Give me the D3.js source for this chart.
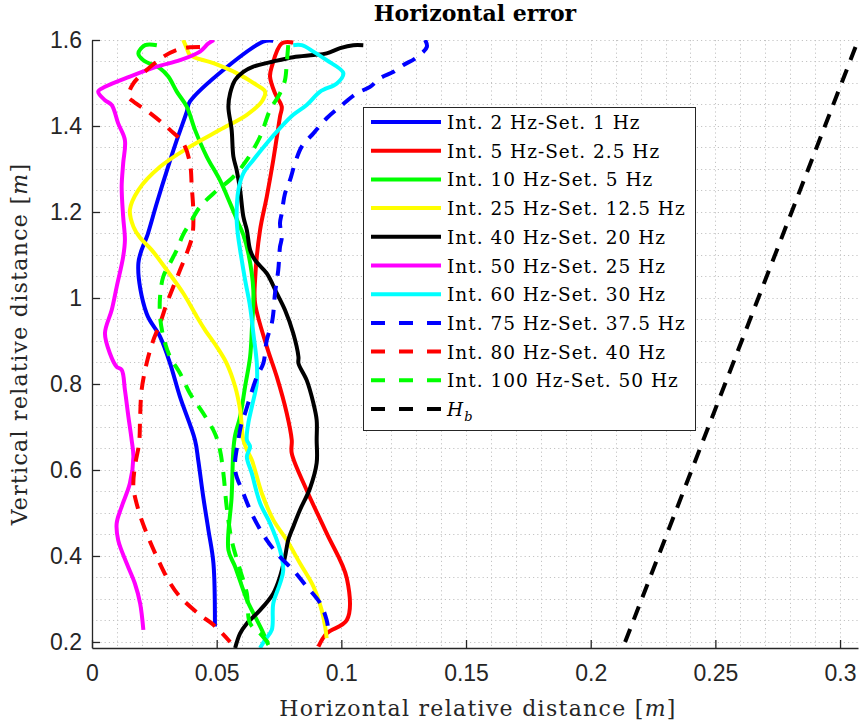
<!DOCTYPE html>
<html>
<head>
<meta charset="utf-8">
<script src="https://cdn.jsdelivr.net/npm/d3@7"></script>
<style>
  body { margin: 0; background: #fff; }
</style>
</head>
<body>
<div id="chart"></div>
<script>
// values: [horizontal distance, vertical distance]
const int2 = [[0.0727,1.598],[0.0686,1.596],[0.0393,1.457],[0.0380,1.433],[0.0340,1.367],[0.0305,1.305],[0.0260,1.221],[0.0225,1.151],[0.0186,1.081],[0.0219,0.964],[0.0273,0.910],[0.0313,0.848],[0.0353,0.770],[0.0413,0.670],[0.0426,0.623],[0.0446,0.538],[0.0467,0.460],[0.0487,0.383],[0.0493,0.236]]
const int5 = [[0.0807,1.594],[0.0761,1.592],[0.0721,1.538],[0.0714,1.515],[0.0734,1.476],[0.0761,1.445],[0.0754,1.422],[0.0727,1.321],[0.0701,1.236],[0.0674,1.158],[0.0654,1.042],[0.0654,0.988],[0.0701,0.887],[0.0741,0.817],[0.0781,0.732],[0.0801,0.670],[0.0801,0.639],[0.0861,0.553],[0.0941,0.453],[0.1022,0.348],[0.1022,0.251],[0.0941,0.220],[0.0908,0.189]]
const int10 = [[0.0260,1.588],[0.0213,1.588],[0.0186,1.569],[0.0206,1.553],[0.0273,1.534],[0.0306,1.515],[0.0340,1.480],[0.0380,1.445],[0.0413,1.391],[0.0460,1.329],[0.0513,1.274],[0.0554,1.220],[0.0587,1.174],[0.0607,1.147],[0.0627,1.104],[0.0647,1.019],[0.0641,0.926],[0.0634,0.863],[0.0614,0.794],[0.0594,0.724],[0.0574,0.681],[0.0567,0.647],[0.0560,0.538],[0.0547,0.414],[0.0574,0.375],[0.0621,0.298],[0.0647,0.267],[0.0681,0.228],[0.0707,0.193]]
const int25 = [[0.0366,1.600],[0.0380,1.581],[0.0393,1.565],[0.0487,1.546],[0.0580,1.523],[0.0661,1.495],[0.0694,1.480],[0.0681,1.457],[0.0621,1.426],[0.0513,1.391],[0.0393,1.352],[0.0273,1.305],[0.0186,1.251],[0.0152,1.205],[0.0166,1.166],[0.0193,1.140],[0.0239,1.112],[0.0300,1.065],[0.0366,1.011],[0.0420,0.957],[0.0453,0.926],[0.0500,0.887],[0.0540,0.848],[0.0574,0.794],[0.0594,0.740],[0.0607,0.670],[0.0621,0.647],[0.0641,0.623],[0.0681,0.546],[0.0727,0.484],[0.0781,0.437],[0.0834,0.383],[0.0888,0.329],[0.0921,0.274],[0.0935,0.236],[0.0941,0.209]]
const int40 = [[0.1088,1.588],[0.1048,1.588],[0.0995,1.581],[0.0941,1.569],[0.0888,1.565],[0.0807,1.560],[0.0727,1.550],[0.0647,1.538],[0.0607,1.526],[0.0574,1.507],[0.0554,1.476],[0.0547,1.445],[0.0560,1.391],[0.0567,1.329],[0.0580,1.298],[0.0594,1.251],[0.0607,1.189],[0.0621,1.158],[0.0634,1.112],[0.0654,1.088],[0.0701,1.057],[0.0741,1.011],[0.0774,0.972],[0.0807,0.918],[0.0828,0.863],[0.0828,0.848],[0.0861,0.809],[0.0888,0.755],[0.0901,0.716],[0.0901,0.670],[0.0901,0.616],[0.0874,0.557],[0.0834,0.507],[0.0807,0.468],[0.0787,0.437],[0.0774,0.398],[0.0754,0.352],[0.0727,0.313],[0.0674,0.274],[0.0621,0.243],[0.0594,0.220],[0.0574,0.186]]
const int50 = [[0.0489,1.600],[0.0467,1.592],[0.0433,1.573],[0.0353,1.553],[0.0260,1.538],[0.0152,1.515],[0.0052,1.491],[0.0025,1.480],[0.0052,1.460],[0.0079,1.449],[0.0105,1.406],[0.0132,1.367],[0.0125,1.313],[0.0119,1.259],[0.0125,1.189],[0.0132,1.135],[0.0125,1.096],[0.0099,1.026],[0.0079,0.972],[0.0052,0.918],[0.0072,0.871],[0.0099,0.840],[0.0119,0.833],[0.0132,0.786],[0.0146,0.724],[0.0159,0.670],[0.0166,0.631],[0.0152,0.569],[0.0119,0.515],[0.0099,0.476],[0.0105,0.437],[0.0139,0.383],[0.0172,0.336],[0.0193,0.290],[0.0206,0.228]]
const int60 = [[0.0807,1.588],[0.0841,1.588],[0.0888,1.573],[0.0941,1.553],[0.1008,1.523],[0.0982,1.499],[0.0915,1.480],[0.0861,1.449],[0.0807,1.426],[0.0754,1.395],[0.0701,1.360],[0.0647,1.321],[0.0607,1.290],[0.0587,1.251],[0.0580,1.189],[0.0584,1.153],[0.0594,1.112],[0.0614,1.042],[0.0634,0.980],[0.0647,0.918],[0.0661,0.848],[0.0661,0.802],[0.0641,0.747],[0.0627,0.709],[0.0621,0.670],[0.0634,0.654],[0.0621,0.631],[0.0641,0.592],[0.0674,0.523],[0.0714,0.476],[0.0754,0.414],[0.0767,0.367],[0.0754,0.336],[0.0727,0.290],[0.0721,0.228],[0.0694,0.205],[0.0674,0.186]]
const int75 = [[0.1336,1.600],[0.1343,1.584],[0.1296,1.557],[0.1249,1.542],[0.1209,1.526],[0.1155,1.511],[0.1115,1.491],[0.1062,1.476],[0.0995,1.445],[0.0941,1.418],[0.0888,1.383],[0.0841,1.352],[0.0814,1.313],[0.0794,1.274],[0.0774,1.243],[0.0761,1.197],[0.0754,1.174],[0.0761,1.140],[0.0754,1.119],[0.0747,1.065],[0.0734,1.011],[0.0727,0.964],[0.0721,0.941],[0.0701,0.902],[0.0687,0.848],[0.0661,0.817],[0.0634,0.770],[0.0614,0.732],[0.0600,0.709],[0.0587,0.670],[0.0574,0.600],[0.0607,0.546],[0.0647,0.491],[0.0701,0.437],[0.0754,0.398],[0.0807,0.367],[0.0861,0.329],[0.0915,0.290],[0.0941,0.251],[0.0948,0.228]]
const int80 = [[0.0433,1.584],[0.0393,1.583],[0.0340,1.577],[0.0286,1.561],[0.0219,1.530],[0.0166,1.499],[0.0146,1.468],[0.0166,1.457],[0.0233,1.430],[0.0313,1.391],[0.0366,1.360],[0.0393,1.313],[0.0400,1.259],[0.0406,1.205],[0.0403,1.147],[0.0380,1.104],[0.0353,1.065],[0.0326,1.026],[0.0300,0.988],[0.0273,0.941],[0.0246,0.902],[0.0219,0.848],[0.0199,0.786],[0.0193,0.724],[0.0189,0.663],[0.0172,0.608],[0.0166,0.561],[0.0186,0.507],[0.0219,0.453],[0.0260,0.398],[0.0306,0.344],[0.0353,0.305],[0.0433,0.263],[0.0487,0.240],[0.0554,0.200]]
const int100 = [[0.0787,1.588],[0.0781,1.546],[0.0774,1.507],[0.0754,1.476],[0.0714,1.437],[0.0674,1.375],[0.0621,1.321],[0.0567,1.282],[0.0487,1.243],[0.0433,1.212],[0.0393,1.174],[0.0365,1.147],[0.0340,1.112],[0.0313,1.081],[0.0286,1.050],[0.0273,1.003],[0.0273,0.957],[0.0286,0.910],[0.0313,0.863],[0.0353,0.825],[0.0393,0.778],[0.0446,0.732],[0.0493,0.685],[0.0513,0.647],[0.0527,0.592],[0.0540,0.515],[0.0560,0.437],[0.0594,0.367],[0.0621,0.313],[0.0634,0.243],[0.0674,0.220],[0.0707,0.197]]
const hb = [[0.2138,0.2],[0.3073,1.6]]

const seriesNames = ["Int. 2 Hz-Set. 1 Hz", "Int. 5 Hz-Set. 2.5 Hz", "Int. 10 Hz-Set. 5 Hz",
  "Int. 25 Hz-Set. 12.5 Hz", "Int. 40 Hz-Set. 20 Hz", "Int. 50 Hz-Set. 25 Hz", "Int. 60 Hz-Set. 30 Hz",
  "Int. 75 Hz-Set. 37.5 Hz", "Int. 80 Hz-Set. 40 Hz", "Int. 100 Hz-Set. 50 Hz", "H_b"]
const seriesData = [int2, int5, int10, int25, int40, int50, int60, int75, int80, int100, hb]

const xTicks = [0, 0.05, 0.1, 0.15, 0.2, 0.25, 0.3]
const xTickLabels = ["0", "0.05", "0.1", "0.15", "0.2", "0.25", "0.3"]
const yTicks = [0.2, 0.4, 0.6, 0.8, 1.0, 1.2, 1.4, 1.6]
const yTickLabels = ["0.2", "0.4", "0.6", "0.8", "1", "1.2", "1.4", "1.6"]

// styles
const colors = ["#0000ff", "#ff0000", "#00ff00", "#ffff00", "#000000", "#ff00ff", "#00ffff",
  "#0000ff", "#ff0000", "#00ff00", "#000000"]
const dashed = [false, false, false, false, false, false, false, true, true, true, true]

const width = 859, height = 726
const plot = {left: 92, right: 858, top: 40, bottom: 648}
const axisColor = "#262626"
const serif = "'DejaVu Serif', serif"

let svg = d3.select("#chart")
    .append("svg")
    .attr("width", width)
    .attr("height", height)

let x = d3.scaleLinear().domain([0, 0.3072]).range([plot.left, plot.right])
let y = d3.scaleLinear().domain([0.186, 1.6]).range([plot.bottom, plot.top])

// dotted grid, major + minor look the same
let grid = svg.append("g")
    .attr("stroke", "#c4c4c4")
    .attr("stroke-width", 1)
    .attr("stroke-dasharray", "1.2,3")
grid.selectAll(".gx")
    .data(d3.range(0, 31).map(i => i / 100))
    .join("line")
    .attr("x1", d => Math.round(x(d)) + 0.5)
    .attr("x2", d => Math.round(x(d)) + 0.5)
    .attr("y1", plot.top)
    .attr("y2", plot.bottom)
grid.selectAll(".gy")
    .data(d3.range(4, 33).map(i => i / 20))
    .join("line")
    .attr("y1", d => Math.round(y(d)) + 0.5)
    .attr("y2", d => Math.round(y(d)) + 0.5)
    .attr("x1", plot.left)
    .attr("x2", plot.right)

svg.append("clipPath")
    .attr("id", "clip")
    .append("rect")
    .attr("x", plot.left)
    .attr("y", plot.top)
    .attr("width", plot.right - plot.left)
    .attr("height", plot.bottom - plot.top)

let line = d3.line()
    .x(d => x(d[0]))
    .y(d => y(d[1]))
    .curve(d3.curveCatmullRom.alpha(0.5))

svg.append("g")
    .attr("clip-path", "url(#clip)")
    .selectAll("path")
    .data(seriesData)
    .join("path")
    .attr("d", line)
    .attr("fill", "none")
    .attr("stroke", (d, i) => colors[i])
    .attr("stroke-width", 4)
    .attr("stroke-linejoin", "round")
    .attr("stroke-dasharray", (d, i) => dashed[i] ? "14,10" : null)

// axes (left + bottom only, ticks pointing in)
let xAxis = svg.append("g")
    .attr("transform", "translate(0," + plot.bottom + ")")
    .call(d3.axisBottom(x)
        .tickValues(xTicks)
        .tickFormat((d, i) => xTickLabels[i])
        .tickSizeInner(-8)
        .tickSizeOuter(0)
        .tickPadding(17))
let yAxis = svg.append("g")
    .attr("transform", "translate(" + plot.left + ",0)")
    .call(d3.axisLeft(y)
        .tickValues(yTicks)
        .tickFormat((d, i) => yTickLabels[i])
        .tickSizeInner(-8)
        .tickSizeOuter(0)
        .tickPadding(10))

for (let ax of [xAxis, yAxis]) {
    ax.select(".domain").attr("stroke", axisColor).attr("stroke-width", 1.3)
    ax.selectAll(".tick line").attr("stroke", axisColor).attr("stroke-width", 1.3)
    ax.selectAll(".tick text")
        .attr("fill", axisColor)
        .style("font-family", "'Liberation Sans', Arial, sans-serif")
        .style("font-size", "23px")
}

// title and axis labels
svg.append("text")
    .attr("x", (plot.left + plot.right) / 2)
    .attr("y", 21)
    .attr("text-anchor", "middle")
    .style("font-family", serif)
    .style("font-weight", "bold")
    .style("font-size", "22px")
    .text("Horizontal error")

let xl = svg.append("text")
    .attr("x", 478)
    .attr("y", 716)
    .attr("text-anchor", "middle")
    .style("font-family", serif)
    .style("font-size", "22px")
    .style("letter-spacing", "1.3px")
    .attr("fill", axisColor)
xl.append("tspan").text("Horizontal relative distance [")
xl.append("tspan").style("font-style", "italic").text("m")
xl.append("tspan").text("]")

let yl = svg.append("text")
    .attr("transform", "translate(27," + ((plot.top + plot.bottom) / 2) + ") rotate(-90)")
    .attr("text-anchor", "middle")
    .style("font-family", serif)
    .style("font-size", "22px")
    .style("letter-spacing", "1.3px")
    .attr("fill", axisColor)
yl.append("tspan").text("Vertical relative distance [")
yl.append("tspan").style("font-style", "italic").text("m")
yl.append("tspan").text("]")

// legend
let legend = svg.append("g")
legend.append("rect")
    .attr("x", 363.5)
    .attr("y", 107.5)
    .attr("width", 332)
    .attr("height", 323)
    .attr("fill", "#fff")
    .attr("stroke", axisColor)
    .attr("stroke-width", 1)

seriesNames.forEach((name, i) => {
    let cy = 122 + i * 28.7
    legend.append("line")
        .attr("x1", 371).attr("x2", 441)
        .attr("y1", cy).attr("y2", cy)
        .attr("stroke", colors[i])
        .attr("stroke-width", 4)
        .attr("stroke-dasharray", dashed[i] ? "14,14" : null)
    let t = legend.append("text")
        .attr("x", 447)
        .attr("y", cy + 7)
        .style("font-family", serif)
        .style("font-size", "18.5px")
        .style("letter-spacing", "1px")
        .attr("fill", "#000")
    if (name === "H_b") {
        t.append("tspan").style("font-style", "italic").text("H")
        t.append("tspan").style("font-style", "italic").style("font-size", "13px")
            .attr("dy", 5).text("b")
    } else {
        t.text(name)
    }
})
</script>
</body>
</html>
